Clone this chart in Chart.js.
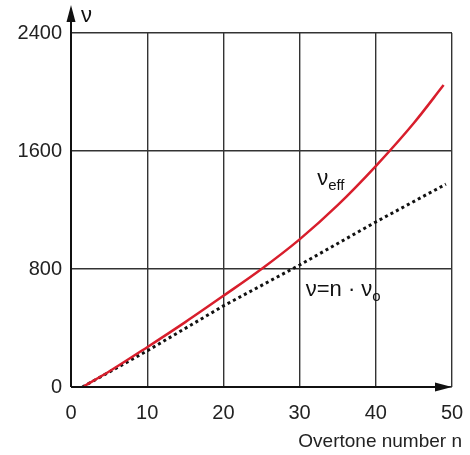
<!DOCTYPE html>
<html>
<head>
<meta charset="utf-8">
<script src="https://cdn.jsdelivr.net/npm/chart.js@4"></script>
<style>
  html, body { margin: 0; padding: 0; background: #fff; }
  #wrap { width: 470px; height: 455px; }
</style>
</head>
<body>
<div id="wrap"><canvas id="c" width="470" height="455"></canvas></div>
<script>
// values
const effN = [1.7, 5, 10, 15, 20, 25, 30, 35, 40, 45, 48.9];
const effV = [5, 105, 270, 440, 618, 800, 1001, 1233, 1498, 1790, 2047];
const linN = [1.5, 10, 20, 30, 40, 49.2];
const linV = [0, 245, 550, 827, 1119, 1375];
const xTicks = [0, 10, 20, 30, 40, 50];
const yTicks = [0, 800, 1600, 2400];

const FONT = 'Liberation Sans, Arial, Helvetica, sans-serif';
const toPts = (xs, ys) => xs.map((x, i) => ({ x, y: ys[i] }));

const decor = {
  id: 'decor',
  afterDatasetsDraw(chart) {
    const { ctx, chartArea: a, scales: { x, y } } = chart;
    ctx.save();
    ctx.fillStyle = '#111';
    ctx.strokeStyle = '#111';
    // axes with arrows
    ctx.lineWidth = 2;
    ctx.beginPath();
    ctx.moveTo(a.left, a.bottom); ctx.lineTo(a.left, 14);
    ctx.moveTo(a.left, a.bottom); ctx.lineTo(a.right - 10, a.bottom);
    ctx.stroke();
    ctx.beginPath();
    ctx.moveTo(a.left, 5); ctx.lineTo(a.left - 4.5, 22); ctx.lineTo(a.left + 4.5, 22);
    ctx.closePath(); ctx.fill();
    ctx.beginPath();
    ctx.moveTo(a.right, a.bottom); ctx.lineTo(a.right - 17, a.bottom - 4.5); ctx.lineTo(a.right - 17, a.bottom + 4.5);
    ctx.closePath(); ctx.fill();

    // labels
    ctx.textBaseline = 'alphabetic';
    ctx.textAlign = 'left';
    ctx.font = '22px ' + FONT;
    ctx.fillText('\u03bd', a.left + 10, 22);

    let px = x.getPixelForValue(32.3), py = y.getPixelForValue(1370);
    ctx.fillText('\u03bd', px, py);
    let w = ctx.measureText('\u03bd').width;
    ctx.font = '15px ' + FONT;
    ctx.fillText('eff', px + w, py + 5);

    px = x.getPixelForValue(30.8); py = y.getPixelForValue(620);
    ctx.font = '22px ' + FONT;
    const s = '\u03bd=n \u00b7 \u03bd';
    ctx.fillText(s, px, py);
    w = ctx.measureText(s).width;
    ctx.font = '15px ' + FONT;
    ctx.fillText('o', px + w, py + 5);

    ctx.fillStyle = '#222';
    ctx.textAlign = 'right';
    ctx.font = '19px ' + FONT;
    ctx.fillText('Overtone number n', 462, 447);
    ctx.restore();
  }
};

new Chart(document.getElementById('c').getContext('2d'), {
  type: 'scatter',
  data: {
    datasets: [
      {
        data: toPts(effN, effV),
        showLine: true,
        borderColor: '#d81e2c',
        borderWidth: 2.5,
        pointRadius: 0,
        cubicInterpolationMode: 'monotone'
      },
      {
        data: toPts(linN, linV),
        showLine: true,
        borderColor: '#111',
        borderWidth: 3,
        borderDash: [3, 3.2],
        pointRadius: 0
      }
    ]
  },
  options: {
    responsive: false,
    animation: false,
    layout: { padding: { left: 0, right: 18, top: 33, bottom: 0 } },
    plugins: { legend: { display: false }, tooltip: { enabled: false } },
    scales: {
      x: {
        type: 'linear', min: 0, max: 50,
        afterBuildTicks: s => { s.ticks = xTicks.map(v => ({ value: v })); },
        afterFit: s => { s.height = 68; s.paddingLeft = 0; s.paddingRight = 0; },
        grid: { color: '#333', lineWidth: 1.4, drawTicks: false },
        border: { display: false },
        ticks: { color: '#222', font: { family: FONT, size: 20 }, padding: 14, maxRotation: 0, callback: v => String(v) }
      },
      y: {
        type: 'linear', min: 0, max: 2400,
        afterBuildTicks: s => { s.ticks = yTicks.map(v => ({ value: v })); },
        afterFit: s => { s.width = 71; s.paddingTop = 0; s.paddingBottom = 0; },
        grid: { color: '#333', lineWidth: 1.4, drawTicks: false },
        border: { display: false },
        ticks: { color: '#222', font: { family: FONT, size: 20 }, padding: 9, callback: v => String(v) }
      }
    }
  },
  plugins: [decor]
});
</script>
</body>
</html>
